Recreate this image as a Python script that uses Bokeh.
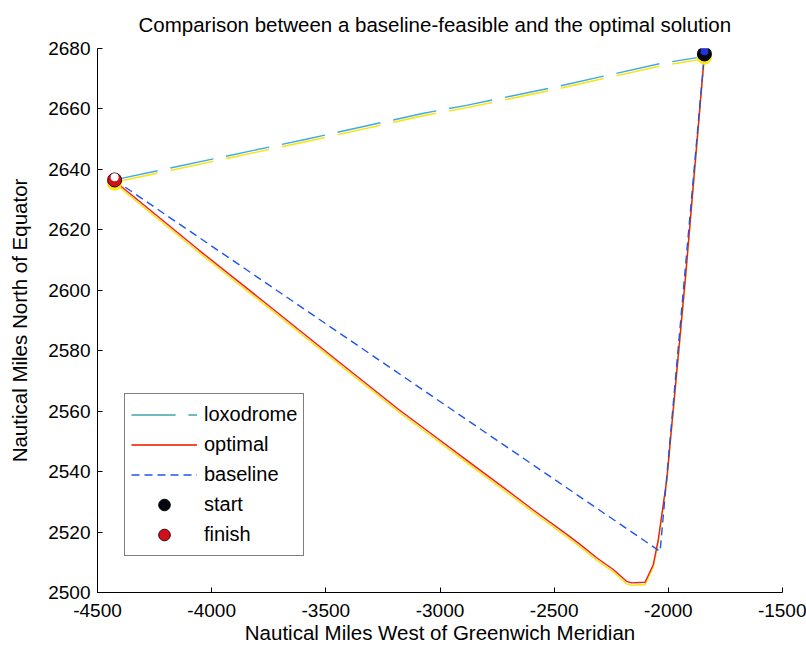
from bokeh.plotting import figure
from bokeh.models import Range1d, FixedTicker, Legend, LegendItem
from bokeh.embed import file_html
from bokeh.resources import INLINE

# ---- data ----
x_ticks = [-4500, -4000, -3500, -3000, -2500, -2000, -1500]
y_ticks = [2500, 2520, 2540, 2560, 2580, 2600, 2620, 2640, 2660, 2680]
x_tick_labels = ["-4500", "-4000", "-3500", "-3000", "-2500", "-2000", "-1500"]
y_tick_labels = ["2500", "2520", "2540", "2560", "2580", "2600", "2620", "2640", "2660", "2680"]

start_x = [-1842]
start_y = [2678.2]
finish_x = [-4425]
finish_y = [2636.5]

loxo_x = [-4425, -4390, -3591, -3077, -2884, -2500, -2036, -1874, -1842]
loxo_y = [2636.5, 2637.1, 2649.9, 2658.5, 2661.2, 2667.2, 2675.0, 2677.0, 2678.2]

opt_x = [-4425, -4393, -4056, -3763, -3471, -3178, -3032, -2885, -2739, -2593,
         -2446, -2388, -2314, -2241, -2183, -2161, -2102, -2066, -2044, -2007,
         -1926, -1842]
opt_y = [2636.5, 2634.2, 2613.3, 2595.7, 2578.0, 2560.4, 2552.2, 2543.9, 2535.7, 2527.4,
         2519.3, 2516.0, 2511.5, 2507.6, 2503.7, 2503.2, 2503.4, 2509.2, 2517.5, 2537.3,
         2603.4, 2678.2]

base_x = [-4425, -2036, -1842]
base_y = [2636.5, 2513.6, 2678.2]

FONT = "Liberation Sans"

p = figure(width=806, height=647, output_backend="svg", toolbar_location=None,
           x_range=Range1d(-4500, -1500), y_range=Range1d(2500, 2680),
           min_border_left=97, min_border_right=24, min_border_top=48, min_border_bottom=55,
           title="Comparison between a baseline-feasible and the optimal solution")
p.background_fill_color = "white"
p.border_fill_color = "white"
p.outline_line_color = None
p.xgrid.visible = False
p.ygrid.visible = False

# shifted scales to reproduce the colour fringes of the scan
p.extra_y_ranges = {
    "down": Range1d(2500 + 0.8, 2680 + 0.8),
    "down2": Range1d(2500 + 1.1, 2680 + 1.1),
    "up": Range1d(2500 - 0.9, 2680 - 0.9),
}

p.title.text_font = FONT
p.title.text_font_size = "20.5px"
p.title.text_font_style = "normal"
p.title.text_color = "black"
p.title.align = "left"
p.title.offset = 41
p.title.vertical_align = "top"
p.title.standoff = 22

for ax in (p.xaxis, p.yaxis):
    ax.axis_line_color = "black"
    ax.major_tick_line_color = "black"
    ax.major_tick_in = 5
    ax.major_tick_out = 0
    ax.minor_tick_line_color = None
    ax.major_label_text_font = FONT
    ax.major_label_text_font_size = "19px"
    ax.major_label_text_color = "black"
    ax.axis_label_text_font = FONT
    ax.axis_label_text_font_size = "20.5px"
    ax.axis_label_text_font_style = "normal"
    ax.axis_label_text_color = "black"

p.xaxis.ticker = FixedTicker(ticks=x_ticks)
p.yaxis.ticker = FixedTicker(ticks=y_ticks)
p.xaxis.major_label_overrides = dict(zip(x_ticks, x_tick_labels))
p.yaxis.major_label_overrides = dict(zip(y_ticks, y_tick_labels))
p.xaxis.major_label_standoff = 11
p.yaxis.major_label_standoff = 7
p.xaxis.axis_label = "Nautical Miles West of Greenwich Meridian"
p.yaxis.axis_label = "Nautical Miles North of Equator"
p.xaxis.axis_label_standoff = 1
p.yaxis.axis_label_standoff = 14

YEL = "#f7e61a"
CYAN = "#3fa9e6"
RED = "#ee1c24"
BLUE = "#1f55ee"

lox_y = p.line(loxo_x, loxo_y, color=YEL, line_width=1.6, line_dash="44 13", y_range_name="down")
lox_c = p.line(loxo_x, loxo_y, color=CYAN, line_width=1.4, line_dash="44 13")

opt_s = p.line(opt_x, opt_y, color=YEL, line_width=1.6, y_range_name="down")
opt_r = p.line(opt_x, opt_y, color=RED, line_width=1.4)

base_b = p.line(base_x, base_y, color=BLUE, line_width=1.4, line_dash="8 5")

st_s = p.scatter(start_x, start_y, size=14, fill_color=YEL, line_color=YEL, y_range_name="down2")
st_k = p.scatter(start_x, start_y, size=14, fill_color="#050510", line_color="black", line_width=1)
st_b = p.scatter(start_x, start_y, size=8, fill_color="#2233dd", line_color=None, y_range_name="up")

fi_s = p.scatter(finish_x, finish_y, size=14, fill_color=YEL, line_color=YEL, y_range_name="down2")
fi_r = p.scatter(finish_x, finish_y, size=14, fill_color="#d0101a", line_color="#300000", line_width=1)
fi_w = p.scatter(finish_x, finish_y, size=8, fill_color="white", line_color=None, y_range_name="up")

legend = Legend(items=[
    LegendItem(label="loxodrome", renderers=[lox_y, lox_c]),
    LegendItem(label="optimal", renderers=[opt_s, opt_r]),
    LegendItem(label="baseline", renderers=[base_b]),
    LegendItem(label="start", renderers=[st_k]),
    LegendItem(label="finish", renderers=[fi_r]),
], location=(27, 36))
legend.label_text_font = FONT
legend.label_text_font_size = "20px"
legend.label_text_color = "black"
legend.glyph_width = 66
legend.glyph_height = 29
legend.label_height = 20
legend.spacing = 1
legend.padding = 6
legend.label_standoff = 7
legend.border_line_color = "black"
legend.border_line_width = 1
legend.background_fill_color = "white"
legend.background_fill_alpha = 1.0
legend.margin = 0
p.add_layout(legend, "center")

open("out.html", "w").write(file_html(p, INLINE))
